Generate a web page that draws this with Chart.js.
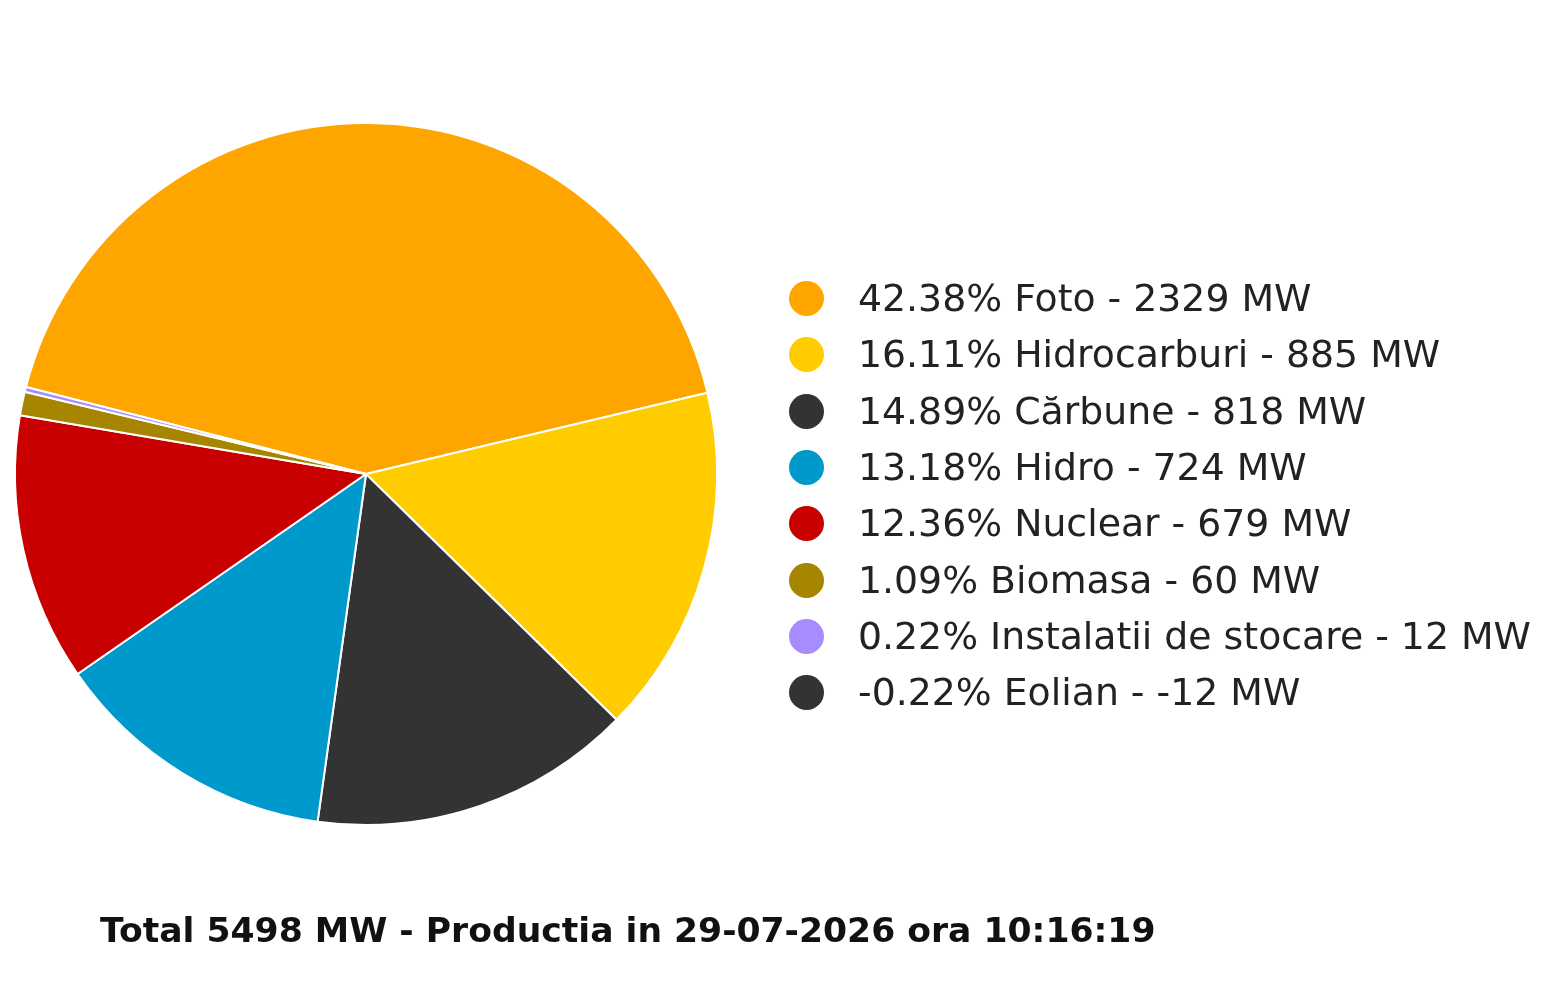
<!DOCTYPE html>
<html>
<head>
<meta charset="utf-8">
<script src="https://cdn.jsdelivr.net/npm/chart.js@4.4.1/dist/chart.umd.min.js"></script>
<style>
    body { margin: 0; background: #fff; }
    #wrap { position: relative; width: 1566px; height: 983px; overflow: hidden; }
    #productieChart { position: absolute; left: 0; top: 0; }
    .legend-row {
        position: absolute; left: 789px; height: 56px; line-height: 56px;
        white-space: nowrap; font-family: "DejaVu Sans", sans-serif;
        font-size: 37.8px; color: #222;
    }
    .legend-dot {
        position: absolute; left: 0; top: 11px; width: 35px; height: 35px;
        border-radius: 50%;
    }
    .legend-text { position: absolute; left: 69px; top: 0; }
    #titlu {
        position: absolute; left: 100px; top: 913px; line-height: 34px;
        white-space: nowrap; font-family: "DejaVu Sans", sans-serif;
        font-weight: bold; font-size: 34.6px; color: #111;
    }
</style>
</head>
<body>
<div id="wrap">
    <canvas id="productieChart" width="1566" height="983"></canvas>
    <div id="legenda"></div>
    <div id="titlu"></div>
</div>
<script>
// Productia de energie pe surse
var surse = ['Foto', 'Hidrocarburi', 'Cărbune', 'Hidro', 'Nuclear', 'Biomasa', 'Instalatii de stocare', 'Eolian'];
var productieMW = [2329, 885, 818, 724, 679, 60, 12, -12];
var procente = ['42.38', '16.11', '14.89', '13.18', '12.36', '1.09', '0.22', '-0.22'];
var culori = ['#ffa500', '#ffcc00', '#333333', '#0099cc', '#c80000', '#a68600', '#a68cff', '#333333'];
var totalMW = 5498;
var dataOra = '29-07-2026 ora 10:16:19';

var ctx = document.getElementById('productieChart').getContext('2d');
var productieChart = new Chart(ctx, {
    type: 'pie',
    data: {
        labels: surse,
        datasets: [{
            // valorile negative nu au felie
            data: productieMW.map(function (v) { return Math.max(v, 0); }),
            backgroundColor: culori,
            borderColor: '#ffffff',
            borderWidth: 2
        }]
    },
    options: {
        responsive: false,
        animation: false,
        rotation: -75.65,
        layout: {
            padding: { left: 14, right: 848, top: 122, bottom: 157 }
        },
        plugins: {
            legend: { display: false },
            tooltip: { enabled: false }
        }
    }
});

// Legenda
var legenda = document.getElementById('legenda');
surse.forEach(function (nume, i) {
    var rand = document.createElement('div');
    rand.className = 'legend-row';
    rand.style.top = (298 + 56.3 * i - 28) + 'px';
    var punct = document.createElement('span');
    punct.className = 'legend-dot';
    punct.style.background = culori[i];
    var text = document.createElement('span');
    text.className = 'legend-text';
    text.textContent = procente[i] + '% ' + nume + ' - ' + productieMW[i] + ' MW';
    rand.appendChild(punct);
    rand.appendChild(text);
    legenda.appendChild(rand);
});

document.getElementById('titlu').textContent = 'Total ' + totalMW + ' MW - Productia in ' + dataOra;
</script>
</body>
</html>
